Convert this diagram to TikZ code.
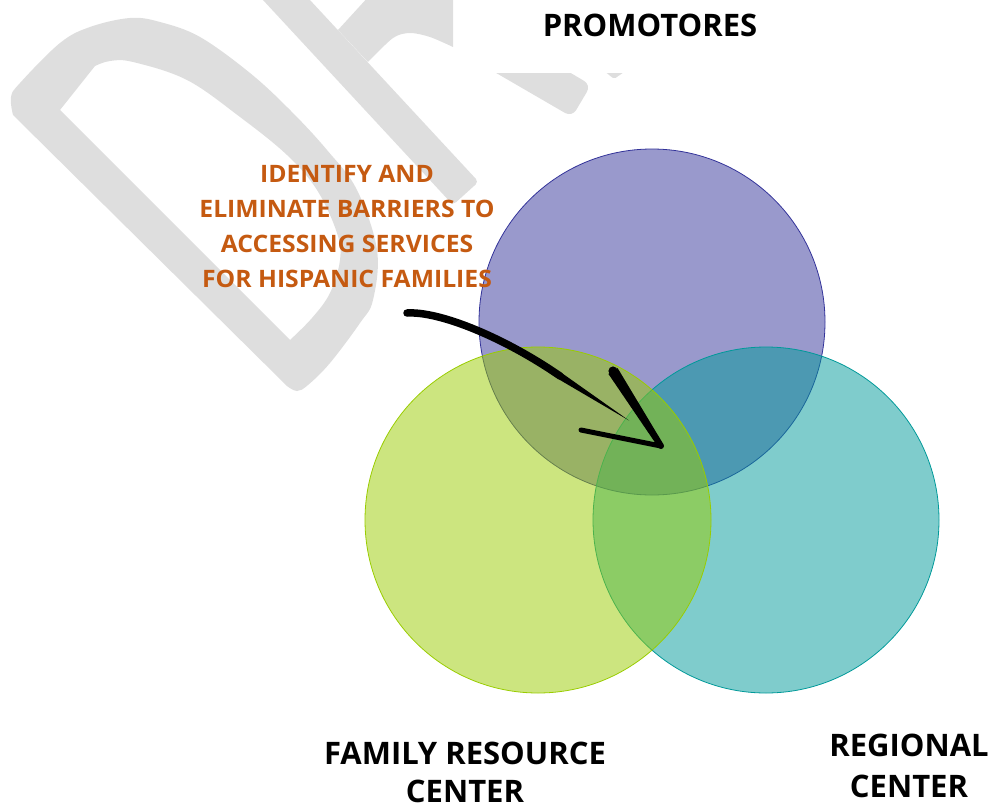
\documentclass[tikz,border=0pt]{standalone}
\usepackage{fontspec}
\setmainfont{Open Sans}
\newfontfamily\orfont[FakeStretch=1.03]{Open Sans}
\usetikzlibrary{calc}
\definecolor{wmgray}{RGB}{222,222,222}
\definecolor{cpurple}{RGB}{51,51,153}
\definecolor{cteal}{RGB}{0,153,153}
\definecolor{cgreen}{RGB}{153,204,0}
\definecolor{corange}{RGB}{197,90,17}
\begin{document}
\begin{tikzpicture}[x=1pt,y=-1pt,
  wm/.style={fill=wmgray},
  venn/.style={circle, minimum size=346pt, inner sep=0pt, fill opacity=0.5, line width=0.8pt},
  lbl/.style={font=\fontsize{31pt}{37pt}\selectfont\bfseries, text=black, anchor=base, inner sep=0pt},
  olbl/.style={font=\orfont\bfseries\fontsize{24pt}{30pt}\selectfont, text=corange, anchor=base, inner sep=0pt},
  ink/.style={fill=black},
  inkline/.style={draw=black, line cap=round}
]
\useasboundingbox (0,0) rectangle (990,808);

% DRAFT watermark (partly hidden by the title box)
\begin{scope}
\clip (0,0) -- (453,0) -- (453,73) -- (990,73) -- (990,808) -- (0,808) -- cycle;
\fill[wm, even odd rule]
  (13,115) -- (287,386) -- plot[smooth, tension=0.6] coordinates {(287,386) (297,391) (308,385) (330,363) (360,323) (373,300) (377,250) (357,190) (327,150) (290,110) (250,73) (200,37) (160,22) (130,18) (90,27) (60,43) (20,83) (11,97) (13,115)} -- cycle
  (60,110) -- (290,340) -- plot[smooth, tension=0.6] coordinates {(290,340) (312,318) (330,293) (340,260) (337,233) (317,190) (287,155) (240,117) (187,80) (133,62) (110,61) (95,66)} -- cycle;
\fill[wm, rounded corners=4pt] (253.7,-10) -- (453,205) -- (478.6,181.8) -- (300.7,-10) -- cycle;
\fill[wm] (338,30) -- (370,-5) -- (460,-5) -- (460,47) -- plot[smooth] coordinates {(453,47) (430,37) (410,33) (393,38) (368,62)} -- cycle;
\fill[wm, rounded corners=8pt] (460,52) -- (572,117) -- (591,85) -- (520,43) -- cycle;
\fill[wm, rounded corners=2pt] (603,70) -- (627,70) -- (614,79) -- cycle;
\end{scope}

% Venn circles
\node[venn, draw=cpurple, fill=cpurple] (pro) at (652,322) {};
\node[venn, draw=cteal, fill=cteal] (reg) at (766,520) {};
\node[venn, draw=cgreen, fill=cgreen] (frc) at (538,520) {};

% labels
\node[lbl] (tpro) at (650,37) {PROMOTORES};
\node[lbl] (tfrc1) at (465,764) {FAMILY RESOURCE};
\node[lbl] (tfrc2) at (465,802) {CENTER};
\node[lbl] (treg1) at (909,756) {REGIONAL};
\node[lbl] (treg2) at (909,797) {CENTER};

\node[olbl] (o1) at (347,182) {IDENTIFY AND};
\node[olbl] (o2) at (347,217) {ELIMINATE BARRIERS TO};
\node[olbl] (o3) at (347,252) {ACCESSING SERVICES};
\node[olbl] (o4) at (347,287) {FOR HISPANIC FAMILIES};

% hand-drawn arrow
\coordinate (as) at (407,313);
\coordinate (am) at (560,376);
\coordinate (tip) at (661,446);
\coordinate (b1) at (613,371);
\coordinate (b2) at (581,430);
\draw[inkline, line width=7.5pt] (as) .. controls (440,311) and (505,338) .. (am);
\fill[ink] (558.1,378.9) -- (561.9,373.1) -- (629,420.5) -- cycle;
\fill[ink] (617.6,368.1) -- (608.4,373.9) -- (658.5,447.6) -- (663.5,444.4) -- cycle;
\fill[ink] (b1) circle (4.6pt);
\fill[ink] (tip) circle (3pt);
\draw[inkline, line width=5pt] (b2) -- (tip);
\end{tikzpicture}
\end{document}
